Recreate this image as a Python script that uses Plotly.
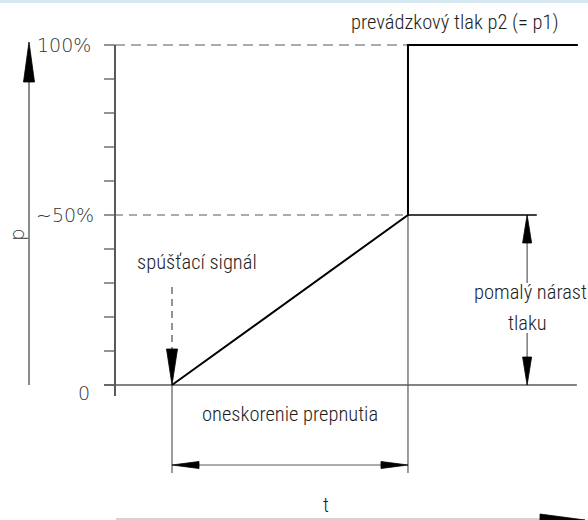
import plotly.graph_objects as go

W, H = 588, 520

# Pressure levels in % of operating pressure
p_ticks = list(range(0, 101, 10))
p_full = 100
p_half = 50
level_labels = ["100%", "~50%", "0"]

# Time instants (arbitrary units, pressure axis at t = 0)
t_signal = 1.0      # trigger signal
t_switch = 5.14     # end of switching delay
t_half_end = 7.40   # end of the 50 % reference line
t_end = 8.12        # end of the 100 % line
t_dim = 7.23        # position of the slow-rise dimension

# Pressure curve: slow rise, then jump to full pressure
curve_t = [t_signal, t_switch, t_switch, t_end]
curve_p = [0, p_half, p_full, p_full]

# Drawing scale (pixels per unit) and origin position
SX, SY = 57.0, 3.4
X0, Y0 = 115.0, 385.0


def dt(px):
    return px / SX


def dp(px):
    return px / SY


t_range = [-X0 / SX, (W - X0) / SX]
p_range = [-(H - Y0) / SY, Y0 / SY]

GREY = "#5a5a5a"
BLACK = "#000000"
TXT = "#1e1e1e"
LABEL_FONT = dict(family="Roboto Condensed, Liberation Sans Narrow, Roboto, sans-serif",
                  size=20.5, color=TXT, weight=300)
NUM_FONT = dict(family="DejaVu Sans, sans-serif", size=19, color="#333333", weight=200)

fig = go.Figure()


def line(ts, ps, color=GREY, width=1.2, dash="solid"):
    fig.add_trace(go.Scatter(x=ts, y=ps, mode="lines",
                             line=dict(color=color, width=width, dash=dash),
                             hoverinfo="skip", showlegend=False))


def head(ts, ps, color=BLACK):
    fig.add_trace(go.Scatter(x=ts + [ts[0]], y=ps + [ps[0]], mode="lines",
                             fill="toself", fillcolor=color,
                             line=dict(color=color, width=0.8),
                             hoverinfo="skip", showlegend=False))


def head_up(t, tip, length_px, half_px):
    head([t, t - dt(half_px), t + dt(half_px)],
         [tip, tip - dp(length_px), tip - dp(length_px)])


def head_down(t, tip, length_px, half_px):
    head([t, t - dt(half_px), t + dt(half_px)],
         [tip, tip + dp(length_px), tip + dp(length_px)])


def head_left(tip, p, length_px, half_px):
    head([tip, tip + dt(length_px), tip + dt(length_px)],
         [p, p + dp(half_px), p - dp(half_px)])


def head_right(tip, p, length_px, half_px):
    head([tip, tip - dt(length_px), tip - dt(length_px)],
         [p, p + dp(half_px), p - dp(half_px)])


# Pressure axis with 10 % ticks
line([0, 0], [p_full, -dp(11)], color=BLACK, width=1.3)
tick_t, tick_p = [], []
for p in p_ticks:
    tick_t += [-dt(11), 0, None]
    tick_p += [p, p, None]
line(tick_t, tick_p, color=GREY, width=1.3)

# Reference levels
line([0, t_switch], [p_full, p_full], dash="10px,6px")
line([0, t_switch], [p_half, p_half], dash="8px,6px")
line([-dt(11), t_end - dt(1)], [0, 0], width=1.3)

# Extension lines for the switching delay
p_ext = -dp(88)
line([t_signal, t_signal], [0, p_ext])
line([t_switch, t_switch], [p_half, p_ext])

# Pressure curve
line(curve_t, curve_p, color=BLACK, width=2.0)
line([t_switch, t_half_end], [p_half, p_half], color=BLACK, width=1.4)

# Switching delay dimension
p_dim = -dp(80)
line([t_signal + dt(20), t_switch - dt(20)], [p_dim, p_dim], width=1.2)
head_left(t_signal, p_dim, 27, 3.5)
head_right(t_switch, p_dim, 27, 3.5)

# Slow pressure rise dimension
line([t_dim, t_dim], [p_half - dp(25), p_half - dp(68)], width=1.2)
line([t_dim, t_dim], [p_half - dp(118), dp(25)], width=1.2)
head_up(t_dim, p_half, 28, 4.5)
head_down(t_dim, 0, 28, 4.5)

# Trigger signal arrow
line([t_signal, t_signal], [dp(98), dp(36)], dash="7px,5px", width=1.3)
head_down(t_signal, 0, 36, 5.5)

# Side arrow for p
t_parrow = -dt(86)
line([t_parrow, t_parrow], [0, p_full - dp(30)], width=1.4)
head_up(t_parrow, p_full + dp(3), 40, 5.5)

# Time axis arrow at the bottom edge
p_taxis = -dp(134)
line([dt(1), dt(428)], [p_taxis, p_taxis], color="#c4c4c4", width=1.4)
head_right(dt(470), -dp(135), 45, 6)

# Top band
fig.add_shape(type="rect", xref="paper", yref="paper", x0=0, x1=1,
              y0=1 - 3 / H, y1=1, fillcolor="#d5e7f0", line_width=0, layer="above")

annotations = [
    dict(x=-dt(22), y=p_full, text=level_labels[0], xanchor="right", yanchor="middle", font=NUM_FONT),
    dict(x=-dt(19), y=p_half, text=level_labels[1], xanchor="right", yanchor="middle", font=NUM_FONT),
    dict(x=-dt(31), y=-dp(8), text=level_labels[2], xanchor="center", yanchor="middle", font=NUM_FONT),
    dict(x=-dt(98), y=dp(150), text="p", textangle=-90, xanchor="center", yanchor="middle",
         font=dict(family="DejaVu Sans, sans-serif", size=20, color="#333333", weight=200)),
    dict(x=dt(234), y=dp(363), text="prevádzkový tlak p2 (= p1)", xanchor="left", yanchor="middle", font=LABEL_FONT),
    dict(x=t_signal - dt(37), y=dp(123), text="spúšťací signál", xanchor="left", yanchor="middle", font=LABEL_FONT),
    dict(x=t_dim + dt(3), y=dp(93), text="pomalý nárast", xanchor="center", yanchor="middle", font=LABEL_FONT),
    dict(x=t_dim, y=dp(62), text="tlaku", xanchor="center", yanchor="middle", font=LABEL_FONT),
    dict(x=(t_signal + t_switch) / 2, y=-dp(29), text="oneskorenie prepnutia", xanchor="center", yanchor="middle", font=LABEL_FONT),
    dict(x=dt(211), y=-dp(120), text="t", xanchor="center", yanchor="middle", font=LABEL_FONT),
]
for a in annotations:
    a.update(xref="x", yref="y", showarrow=False)

fig.update_layout(
    width=W, height=H,
    margin=dict(l=0, r=0, t=0, b=0),
    paper_bgcolor="white", plot_bgcolor="white",
    xaxis=dict(range=t_range, visible=False, fixedrange=True),
    yaxis=dict(range=p_range, visible=False, fixedrange=True),
    annotations=annotations,
    showlegend=False,
)

fig.write_html("out.html")
